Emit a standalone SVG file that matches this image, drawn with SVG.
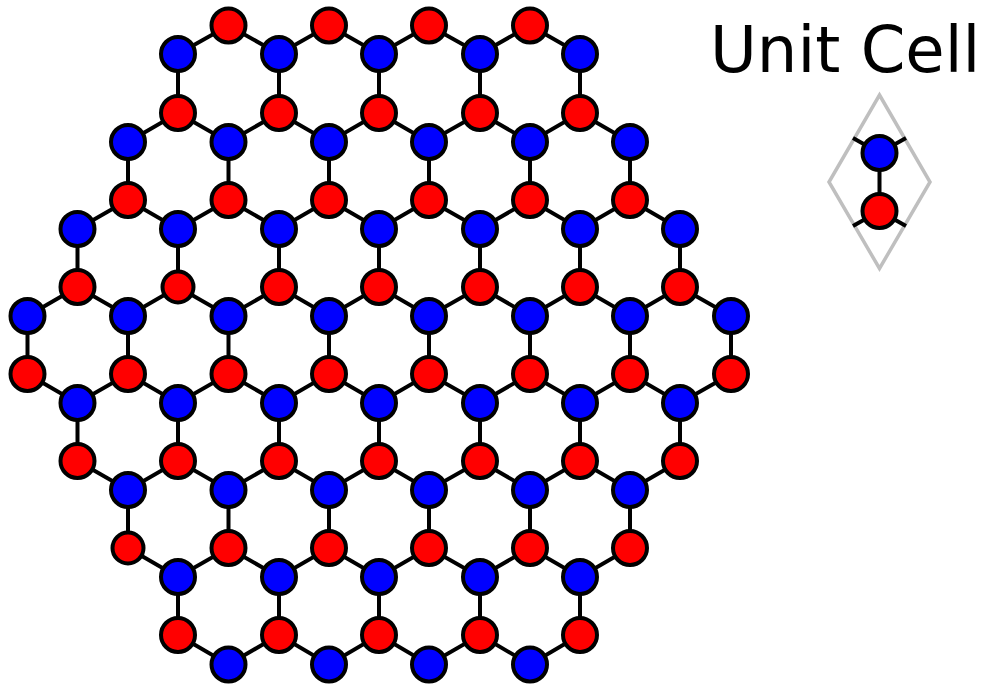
<svg xmlns="http://www.w3.org/2000/svg" width="983" height="684" viewBox="0 0 983 684">
<style>
.e{fill:none;stroke:#000;stroke-width:4}
.r,.b{stroke:#000;stroke-width:4}
.r{fill:#f00}
.b{fill:#00f}
.c{fill:none;stroke:#bfbfbf;stroke-width:3.500}
text{font-family:"DejaVu Sans",sans-serif;font-size:64px;fill:#000}
</style>
<rect width="983" height="684" fill="#fff"/>
<g id="connectors">
<path class="e" d="M178 54V113M279 54V113M379 54V113M480 54V113M580 54V113"/>
<path class="e" d="M128 142V200M228.500 142V200M329 142V200M429 142V200M530 142V200M630 142V200"/>
<path class="e" d="M77.500 229V287M178 229V287M279 229V287M379 229V287M480 229V287M580 229V287M680 229V287"/>
<path class="e" d="M27.500 316V374M128 316V374M228.500 316V374M329 316V374M429 316V374M530 316V374M630 316V374M731 316V374"/>
<path class="e" d="M77.500 403V461M178 403V461M279 403V461M379 403V461M480 403V461M580 403V461M680 403V461"/>
<path class="e" d="M128 490V548M228.500 490V548M329 490V548M429 490V548M530 490V548M630 490V548"/>
<path class="e" d="M178 577V635M279 577V635M379 577V635M480 577V635M580 577V635"/>
<path class="e" d="M178 54L228.500 25.500L279 54L329 25.500L379 54L429 25.500L480 54L530 25.500L580 54"/>
<path class="e" d="M128 142L178 113L228.500 142L279 113L329 142L379 113L429 142L480 113L530 142L580 113L630 142"/>
<path class="e" d="M77.500 229L128 200L178 229L228.500 200L279 229L329 200L379 229L429 200L480 229L530 200L580 229L630 200L680 229"/>
<path class="e" d="M27.500 316L77.500 287L128 316L178 287L228.500 316L279 287L329 316L379 287L429 316L480 287L530 316L580 287L630 316L680 287L731 316"/>
<path class="e" d="M27.500 374L77.500 403L128 374L178 403L228.500 374L279 403L329 374L379 403L429 374L480 403L530 374L580 403L630 374L680 403L731 374"/>
<path class="e" d="M77.500 461L128 490L178 461L228.500 490L279 461L329 490L379 461L429 490L480 461L530 490L580 461L630 490L680 461"/>
<path class="e" d="M128 548L178 577L228.500 548L279 577L329 548L379 577L429 548L480 577L530 548L580 577L630 548"/>
<path class="e" d="M178 635L228.500 664.500L279 635L329 664.500L379 635L429 664.500L480 635L530 664.500L580 635"/>
</g>
<g id="n0-1"><circle class="r" cx="228.500" cy="25.500" r="17"/></g>
<g id="n0-2"><circle class="r" cx="329" cy="25.500" r="17"/></g>
<g id="n0-3"><circle class="r" cx="429" cy="25.500" r="17"/></g>
<g id="n0-4"><circle class="r" cx="530" cy="25.500" r="17"/></g>
<g id="n1-1"><circle class="b" cx="178" cy="54" r="17"/></g>
<g id="n1-2"><circle class="b" cx="279" cy="54" r="17"/></g>
<g id="n1-3"><circle class="b" cx="379" cy="54" r="17"/></g>
<g id="n1-4"><circle class="b" cx="480" cy="54" r="17"/></g>
<g id="n1-5"><circle class="b" cx="580" cy="54" r="17"/></g>
<g id="n2-1"><circle class="r" cx="178" cy="113" r="17"/></g>
<g id="n2-2"><circle class="r" cx="279" cy="113" r="17"/></g>
<g id="n2-3"><circle class="r" cx="379" cy="113" r="17"/></g>
<g id="n2-4"><circle class="r" cx="480" cy="113" r="17"/></g>
<g id="n2-5"><circle class="r" cx="580" cy="113" r="17"/></g>
<g id="n3-1"><circle class="b" cx="128" cy="142" r="17"/></g>
<g id="n3-2"><circle class="b" cx="228.500" cy="142" r="17"/></g>
<g id="n3-3"><circle class="b" cx="329" cy="142" r="17"/></g>
<g id="n3-4"><circle class="b" cx="429" cy="142" r="17"/></g>
<g id="n3-5"><circle class="b" cx="530" cy="142" r="17"/></g>
<g id="n3-6"><circle class="b" cx="630" cy="142" r="17"/></g>
<g id="n4-1"><circle class="r" cx="128" cy="200" r="17"/></g>
<g id="n4-2"><circle class="r" cx="228.500" cy="200" r="17"/></g>
<g id="n4-3"><circle class="r" cx="329" cy="200" r="17"/></g>
<g id="n4-4"><circle class="r" cx="429" cy="200" r="17"/></g>
<g id="n4-5"><circle class="r" cx="530" cy="200" r="17"/></g>
<g id="n4-6"><circle class="r" cx="630" cy="200" r="17"/></g>
<g id="n5-1"><circle class="b" cx="77.500" cy="229" r="17"/></g>
<g id="n5-2"><circle class="b" cx="178" cy="229" r="17"/></g>
<g id="n5-3"><circle class="b" cx="279" cy="229" r="17"/></g>
<g id="n5-4"><circle class="b" cx="379" cy="229" r="17"/></g>
<g id="n5-5"><circle class="b" cx="480" cy="229" r="17"/></g>
<g id="n5-6"><circle class="b" cx="580" cy="229" r="17"/></g>
<g id="n5-7"><circle class="b" cx="680" cy="229" r="17"/></g>
<g id="n6-1"><circle class="r" cx="77.500" cy="287" r="17"/></g>
<g id="n6-2"><circle class="r" cx="178" cy="287" r="15.500"/></g>
<g id="n6-3"><circle class="r" cx="279" cy="287" r="17"/></g>
<g id="n6-4"><circle class="r" cx="379" cy="287" r="17"/></g>
<g id="n6-5"><circle class="r" cx="480" cy="287" r="17"/></g>
<g id="n6-6"><circle class="r" cx="580" cy="287" r="17"/></g>
<g id="n6-7"><circle class="r" cx="680" cy="287" r="17"/></g>
<g id="n7-1"><circle class="b" cx="27.500" cy="316" r="17"/></g>
<g id="n7-2"><circle class="b" cx="128" cy="316" r="17"/></g>
<g id="n7-3"><circle class="b" cx="228.500" cy="316" r="17"/></g>
<g id="n7-4"><circle class="b" cx="329" cy="316" r="17"/></g>
<g id="n7-5"><circle class="b" cx="429" cy="316" r="17"/></g>
<g id="n7-6"><circle class="b" cx="530" cy="316" r="17"/></g>
<g id="n7-7"><circle class="b" cx="630" cy="316" r="17"/></g>
<g id="n7-8"><circle class="b" cx="731" cy="316" r="17"/></g>
<g id="n8-1"><circle class="r" cx="27.500" cy="374" r="17"/></g>
<g id="n8-2"><circle class="r" cx="128" cy="374" r="17"/></g>
<g id="n8-3"><circle class="r" cx="228.500" cy="374" r="17"/></g>
<g id="n8-4"><circle class="r" cx="329" cy="374" r="17"/></g>
<g id="n8-5"><circle class="r" cx="429" cy="374" r="17"/></g>
<g id="n8-6"><circle class="r" cx="530" cy="374" r="17"/></g>
<g id="n8-7"><circle class="r" cx="630" cy="374" r="17"/></g>
<g id="n8-8"><circle class="r" cx="731" cy="374" r="17"/></g>
<g id="n9-1"><circle class="b" cx="77.500" cy="403" r="17"/></g>
<g id="n9-2"><circle class="b" cx="178" cy="403" r="17"/></g>
<g id="n9-3"><circle class="b" cx="279" cy="403" r="17"/></g>
<g id="n9-4"><circle class="b" cx="379" cy="403" r="17"/></g>
<g id="n9-5"><circle class="b" cx="480" cy="403" r="17"/></g>
<g id="n9-6"><circle class="b" cx="580" cy="403" r="17"/></g>
<g id="n9-7"><circle class="b" cx="680" cy="403" r="17"/></g>
<g id="n10-1"><circle class="r" cx="77.500" cy="461" r="17"/></g>
<g id="n10-2"><circle class="r" cx="178" cy="461" r="17"/></g>
<g id="n10-3"><circle class="r" cx="279" cy="461" r="17"/></g>
<g id="n10-4"><circle class="r" cx="379" cy="461" r="17"/></g>
<g id="n10-5"><circle class="r" cx="480" cy="461" r="17"/></g>
<g id="n10-6"><circle class="r" cx="580" cy="461" r="17"/></g>
<g id="n10-7"><circle class="r" cx="680" cy="461" r="17"/></g>
<g id="n11-1"><circle class="b" cx="128" cy="490" r="17"/></g>
<g id="n11-2"><circle class="b" cx="228.500" cy="490" r="17"/></g>
<g id="n11-3"><circle class="b" cx="329" cy="490" r="17"/></g>
<g id="n11-4"><circle class="b" cx="429" cy="490" r="17"/></g>
<g id="n11-5"><circle class="b" cx="530" cy="490" r="17"/></g>
<g id="n11-6"><circle class="b" cx="630" cy="490" r="17"/></g>
<g id="n12-1"><circle class="r" cx="128" cy="548" r="15.500"/></g>
<g id="n12-2"><circle class="r" cx="228.500" cy="548" r="17"/></g>
<g id="n12-3"><circle class="r" cx="329" cy="548" r="17"/></g>
<g id="n12-4"><circle class="r" cx="429" cy="548" r="17"/></g>
<g id="n12-5"><circle class="r" cx="530" cy="548" r="17"/></g>
<g id="n12-6"><circle class="r" cx="630" cy="548" r="17"/></g>
<g id="n13-1"><circle class="b" cx="178" cy="577" r="17"/></g>
<g id="n13-2"><circle class="b" cx="279" cy="577" r="17"/></g>
<g id="n13-3"><circle class="b" cx="379" cy="577" r="17"/></g>
<g id="n13-4"><circle class="b" cx="480" cy="577" r="17"/></g>
<g id="n13-5"><circle class="b" cx="580" cy="577" r="17"/></g>
<g id="n14-1"><circle class="r" cx="178" cy="635" r="17"/></g>
<g id="n14-2"><circle class="r" cx="279" cy="635" r="17"/></g>
<g id="n14-3"><circle class="r" cx="379" cy="635" r="17"/></g>
<g id="n14-4"><circle class="r" cx="480" cy="635" r="17"/></g>
<g id="n14-5"><circle class="r" cx="580" cy="635" r="17"/></g>
<g id="n15-1"><circle class="b" cx="228.500" cy="664.500" r="17"/></g>
<g id="n15-2"><circle class="b" cx="329" cy="664.500" r="17"/></g>
<g id="n15-3"><circle class="b" cx="429" cy="664.500" r="17"/></g>
<g id="n15-4"><circle class="b" cx="530" cy="664.500" r="17"/></g>
<g id="unit-cell">
<path class="c" d="M879.500 95L930 182L879.500 268.500L829 182Z"/>
<path class="e" d="M853 138L879.500 153L906 138M879.500 153V211M853 226L879.500 211L906 226"/>
<circle class="b" cx="879.500" cy="153" r="17"/>
<circle class="r" cx="879.500" cy="211" r="17"/>
</g>
<text id="title" x="710" y="72">Unit Cell</text>
</svg>
